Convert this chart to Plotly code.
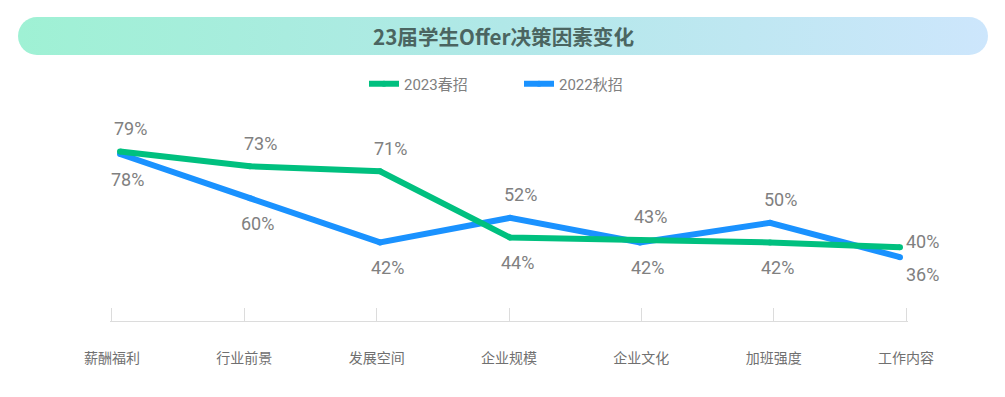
import base64
import plotly.graph_objects as go

# ---------------- data ----------------
categories = ["薪酬福利", "行业前景", "发展空间", "企业规模", "企业文化", "加班强度", "工作内容"]
spring_2023 = [79, 73, 71, 44, 43, 42, 40]
autumn_2022 = [78, 60, 42, 52, 42, 50, 36]
series_names = ["2023春招", "2022秋招"]
title_text = "23届学生Offer决策因素变化"

# ---------------- style ----------------
GREEN = "#00c07f"
BLUE = "#1a92ff"
LABEL_COLOR = "#808080"
AXIS_COLOR = "#dcdcdc"
W, H = 1005, 397
ML, MR, MT, MB = 110, 97, 100, 76
PW, PH = W - ML - MR, H - MT - MB
EDGE_PAD = 0.015                    # small padding so the end ticks are drawn
FIRST_PT_PX, LAST_PT_PX = 120, 900  # where the line's first/last points sit


def px_to_paper_x(px):
    return (px - ML) / PW


def px_to_paper_y(py):
    return (H - MB - py) / PH


idx = list(range(len(categories)))
n = len(categories)

# range of the overlaid data axis so points land at FIRST_PT_PX..LAST_PT_PX
span = (n - 1) * PW / (LAST_PT_PX - FIRST_PT_PX)
x2_lo = -(FIRST_PT_PX - ML) / PW * span
x2_range = [x2_lo, x2_lo + span]

fig = go.Figure()

# invisible helper trace so the category axis is drawn
fig.add_trace(go.Scatter(
    x=idx, y=spring_2023, xaxis="x", yaxis="y", mode="lines",
    line=dict(width=0, color="rgba(0,0,0,0)"), showlegend=False, hoverinfo="skip",
))

# blue first (drawn beneath), green on top
fig.add_trace(go.Scatter(
    x=idx, y=autumn_2022, name=series_names[1], xaxis="x2", yaxis="y",
    mode="lines+markers", line=dict(color=BLUE, width=6),
    marker=dict(color=BLUE, size=6), hoverinfo="skip", legendrank=2,
))
fig.add_trace(go.Scatter(
    x=idx, y=spring_2023, name=series_names[0], xaxis="x2", yaxis="y",
    mode="lines+markers", line=dict(color=GREEN, width=6),
    marker=dict(color=GREEN, size=6), hoverinfo="skip", legendrank=1,
))

# value labels: higher value above, lower below; last point to the right
annotations = []
for i in idx:
    for vals, other in ((spring_2023, autumn_2022), (autumn_2022, spring_2023)):
        v = vals[i]
        above = v >= other[i]
        if i == n - 1:
            xs, ys = 22, (6 if above else -17)
        elif above:
            xs, ys = 10, 23
        else:
            xs, ys = 7, -25
        annotations.append(dict(
            x=i, y=v, xref="x2", yref="y", text=f"{v}%", showarrow=False,
            xshift=xs, yshift=ys, xanchor="center", yanchor="middle",
            font=dict(family="Roboto", size=18, color=LABEL_COLOR),
        ))

# title text
annotations.append(dict(
    x=px_to_paper_x(503), y=px_to_paper_y(36), xref="paper", yref="paper",
    text=f"<b>{title_text}</b>", showarrow=False, xanchor="center", yanchor="middle",
    font=dict(family="Noto Sans CJK SC", size=20.6, color="#4b6561"),
))

# gradient pill behind the title
pill_w, pill_h = 970, 38
svg = (
    f'<svg xmlns="http://www.w3.org/2000/svg" width="{pill_w}" height="{pill_h}" '
    f'viewBox="0 0 {pill_w} {pill_h}"><defs><linearGradient id="g" x1="0" y1="0" x2="1" y2="0">'
    '<stop offset="0" stop-color="#9ff1d4"/><stop offset="0.5" stop-color="#b1e8e8"/>'
    '<stop offset="1" stop-color="#cde6fc"/></linearGradient></defs>'
    f'<rect width="{pill_w}" height="{pill_h}" rx="19" ry="19" fill="url(#g)"/></svg>'
)
svg_uri = "data:image/svg+xml;base64," + base64.b64encode(svg.encode()).decode()

fig.update_layout(
    width=W, height=H,
    margin=dict(l=ML, r=MR, t=MT, b=MB, pad=0),
    paper_bgcolor="white", plot_bgcolor="white",
    showlegend=True,
    legend=dict(
        orientation="h", x=px_to_paper_x(519), xanchor="center",
        y=px_to_paper_y(84), yanchor="middle",
        font=dict(family="Roboto, 'Noto Sans CJK SC'", size=15, color=LABEL_COLOR),
        itemwidth=30, entrywidth=110, bgcolor="rgba(0,0,0,0)",
    ),
    xaxis=dict(
        range=[-EDGE_PAD, n - 1 + EDGE_PAD], tickmode="array", tickvals=idx, ticktext=categories,
        showline=True, linecolor=AXIS_COLOR, linewidth=1,
        ticks="inside", ticklen=13, tickcolor=AXIS_COLOR, tickwidth=1,
        showgrid=False, zeroline=False, fixedrange=True,
        tickfont=dict(family="'Noto Sans CJK SC'", size=14, color="#707070"),
        ticklabelstandoff=24,
    ),
    xaxis2=dict(
        overlaying="x", range=x2_range, visible=False, fixedrange=True,
    ),
    yaxis=dict(range=[10, 100], visible=False, showgrid=False, zeroline=False, fixedrange=True),
    annotations=annotations,
    images=[dict(
        source=svg_uri, xref="paper", yref="paper",
        x=px_to_paper_x(18), y=px_to_paper_y(17),
        sizex=pill_w / PW, sizey=pill_h / PH,
        xanchor="left", yanchor="top", sizing="stretch", layer="below",
    )],
)

fig.write_html(
    "out.html",
    config={"displayModeBar": False},
    post_script="document.body.style.margin='0';document.body.style.overflow='hidden';",
)
